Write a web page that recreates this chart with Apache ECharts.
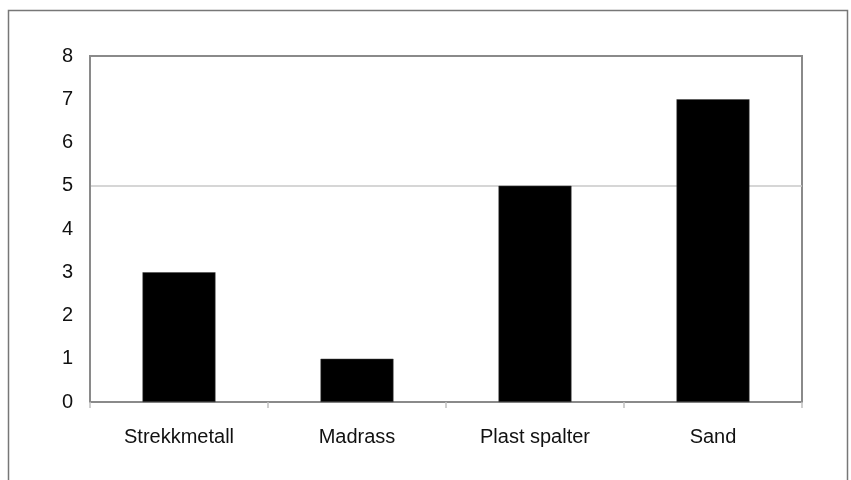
<!DOCTYPE html>
<html>
<head>
<meta charset="utf-8">
<script src="https://cdn.jsdelivr.net/npm/echarts@6/dist/echarts.min.js"></script>
<style>
html,body{margin:0;padding:0;background:#fff;}
#chart{width:851px;height:480px;}
</style>
</head>
<body>
<div id="chart"></div>
<script>
const categories = ['Strekkmetall', 'Madrass', 'Plast spalter', 'Sand'];
const values = [3, 1, 5, 7];
const yTicks = [0, 1, 2, 3, 4, 5, 6, 7, 8];
const refLine = 5;

const chart = echarts.init(document.getElementById('chart'), null, {renderer: 'canvas'});
chart.setOption({
  animation: false,
  backgroundColor: '#fff',
  graphic: [{
    type: 'rect',
    shape: {x: 8.5, y: 10.5, width: 839, height: 520},
    style: {fill: 'none', stroke: '#777', lineWidth: 1.5},
    silent: true
  }],
  grid: {left: 90, top: 56, right: 49, bottom: 78, show: true, borderColor: '#8a8a8a', borderWidth: 2, backgroundColor: 'transparent'},
  xAxis: {
    type: 'category',
    data: categories,
    axisLine: {show: true, lineStyle: {color: '#8a8a8a', width: 2}},
    axisTick: {show: true, alignWithLabel: false, length: 6, lineStyle: {color: '#c0c0c0', width: 1.5}},
    axisLabel: {color: '#111', fontSize: 20, fontFamily: 'Liberation Sans, Arial, sans-serif', margin: 25}
  },
  yAxis: {
    type: 'value',
    min: yTicks[0],
    max: yTicks[yTicks.length - 1],
    interval: 1,
    axisLine: {show: true, lineStyle: {color: '#8a8a8a', width: 2}},
    axisTick: {show: false},
    splitLine: {show: false},
    axisLabel: {color: '#111', fontSize: 20, fontFamily: 'Liberation Sans, Arial, sans-serif', margin: 17}
  },
  series: [{
    type: 'bar',
    data: values,
    barWidth: '41%',
    itemStyle: {color: '#000', borderColor: '#444', borderWidth: 0.5},
    markLine: {
      silent: true,
      symbol: 'none',
      label: {show: false},
      lineStyle: {color: '#c8c8c8', type: 'solid', width: 1.5},
      data: [{yAxis: refLine}],
      z: 0
    },
    z: 3
  }]
});
</script>
</body>
</html>
